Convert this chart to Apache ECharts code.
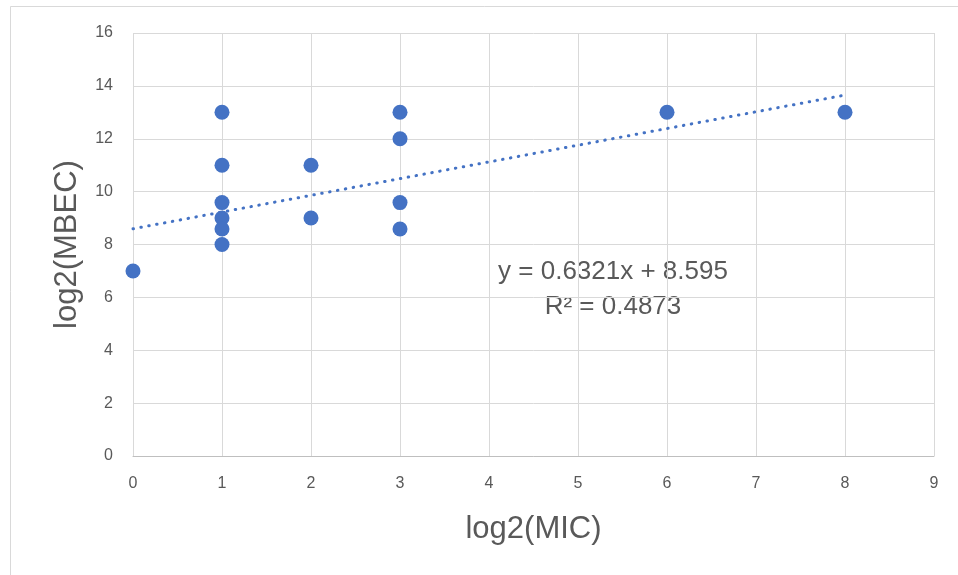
<!DOCTYPE html>
<html><head><meta charset="utf-8">
<script src="https://cdn.jsdelivr.net/npm/echarts@6/dist/echarts.min.js"></script>
<style>html,body{margin:0;padding:0;background:#fff}#c{width:958px;height:575px}</style>
</head><body><div id="c"></div>
<script>
const xValues = [0, 1, 1, 1, 1, 1, 1, 2, 2, 3, 3, 3, 3, 6, 8];
const yValues = [7, 13, 11, 9.585, 9, 8.585, 8, 11, 9, 13, 12, 9.585, 8.585, 13, 13];
const trendSlope = 0.6321;
const trendIntercept = 8.595;
const trendRange = [0, 8];
const xTicks = { min: 0, max: 9, interval: 1 };
const yTicks = { min: 0, max: 16, interval: 2 };
const xTitle = 'log2(MIC)';
const yTitle = 'log2(MBEC)';
const eqLine1 = 'y = 0.6321x + 8.595';
const eqLine2 = 'R² = 0.4873';

const points = xValues.map((x, i) => [x, yValues[i]]);
const trend = trendRange.map(x => [x, trendSlope * x + trendIntercept]);

const chart = echarts.init(document.getElementById('c'), null, {renderer: 'canvas'});
const txt = '#595959';
const font = '"Liberation Sans", Arial, sans-serif';
chart.setOption({
  animation: false,
  backgroundColor: '#fff',
  grid: { left: 133, right: 24, top: 33, bottom: 119 },
  xAxis: {
    type: 'value', min: xTicks.min, max: xTicks.max, interval: xTicks.interval,
    name: xTitle, nameLocation: 'middle', nameGap: 58,
    nameTextStyle: { fontSize: 31, color: txt, fontFamily: font },
    axisLine: { show: true, lineStyle: { color: '#bfbfbf', width: 1 } },
    axisTick: { show: false },
    axisLabel: { fontSize: 16, color: txt, margin: 20, fontFamily: font },
    splitLine: { show: true, lineStyle: { color: '#d9d9d9', width: 1 } }
  },
  yAxis: {
    type: 'value', min: yTicks.min, max: yTicks.max, interval: yTicks.interval,
    name: yTitle, nameLocation: 'middle', nameGap: 50, nameRotate: 90,
    nameTextStyle: { fontSize: 31, color: txt, fontFamily: font },
    axisLine: { show: false },
    axisTick: { show: false },
    axisLabel: { fontSize: 16, color: txt, margin: 20, fontFamily: font },
    splitLine: { show: true, lineStyle: { color: '#d9d9d9', width: 1 } }
  },
  graphic: [
    { type: 'rect', left: 8, top: 4, shape: { width: 970, height: 600 },
      style: { fill: 'none', stroke: '#d9d9d9', lineWidth: 1 }, silent: true, z: -1 },
    { type: 'text', x: 613, y: 272, style: { text: eqLine1, fill: txt, fontSize: 26,
      fontFamily: font, align: 'center', verticalAlign: 'middle' } },
    { type: 'text', x: 613, y: 307, style: { text: eqLine2, fill: txt, fontSize: 26,
      fontFamily: font, align: 'center', verticalAlign: 'middle' } }
  ],
  series: [
    { type: 'scatter', data: points, symbol: 'circle', symbolSize: 15,
      itemStyle: { color: '#4472C4', opacity: 1 }, z: 3 },
    { type: 'line', data: trend, showSymbol: false, symbol: 'none',
      lineStyle: { color: '#4472C4', width: 3, type: [0.5, 7.5], cap: 'round' }, z: 2 }
  ]
});
</script></body></html>
